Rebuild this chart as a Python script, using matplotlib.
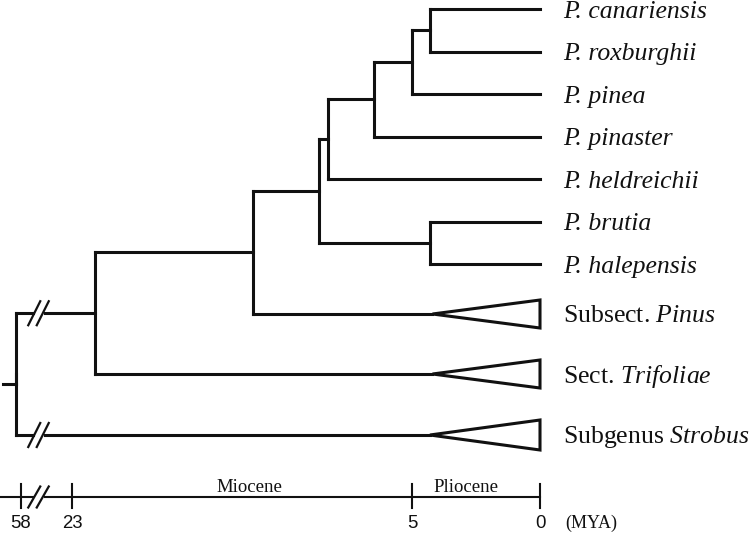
import numpy as np
import matplotlib
matplotlib.use("Agg")
import matplotlib.pyplot as plt
from matplotlib.patches import Polygon
from matplotlib.lines import Line2D

# ---------------- data ----------------
species = ["P. canariensis", "P. roxburghii", "P. pinea", "P. pinaster",
           "P. heldreichii", "P. brutia", "P. halepensis"]
clade_prefix = ["Subsect.", "Sect.", "Subgenus"]
clade_names = ["Pinus", "Trifoliae", "Strobus"]
clade_crown_age = [4.2, 4.2, 4.3]          # MYA, apex of collapsed triangles

# internal nodes (MYA)
node_age = {"n1": 4.3, "n2": 5.0, "n3": 7.0, "n4": 9.45, "n5": 4.3,
            "n6": 9.9, "n7": 13.4, "n8": 21.8, "root": 61.5}
root_stem_age = 70.3

tick_ages = [58, 23, 5, 0]
tick_labels = ["58", "23", "5", "0"]
epoch_names = ["Miocene", "Pliocene"]
epoch_label_age = [13.6, 2.9]

# topology
tree = ("root", [("n8", [("n7", [("n6", [("n4", [("n3", [("n2", [("n1", ["P. canariensis", "P. roxburghii"]),
                                                                 "P. pinea"]),
                                                         "P. pinaster"]),
                                                 "P. heldreichii"]),
                                         ("n5", ["P. brutia", "P. halepensis"])]),
                                 "Subsect."]),
                         "Sect."]),
                 "Subgenus"])
broken_children = {"n8", "Subgenus"}   # branches from root drawn with a break

# ---------------- scale (piecewise, as drawn in the figure) ----------------
A = np.array([0.0, 5.0, 23.0, 58.0])
D = np.array([0.0, 128.0, 468.0, 519.0])
s0 = (D[1] - D[0]) / (A[1] - A[0])
s3 = (D[3] - D[2]) / (A[3] - A[2])


def fwd(a):
    a = np.asarray(a, float)
    d = np.interp(a, A, D)
    d = np.where(a < 0, a * s0, d)
    d = np.where(a > A[-1], D[-1] + (a - A[-1]) * s3, d)
    return d


def inv(d):
    d = np.asarray(d, float)
    a = np.interp(d, D, A)
    a = np.where(d < 0, d / s0, a)
    a = np.where(d > D[-1], A[-1] + (d - D[-1]) / s3, a)
    return a


# ---------------- figure ----------------
W, H = 752, 535
fig = plt.figure(figsize=(W / 100, H / 100), dpi=100)
ax = fig.add_axes([0, 0, 1, 1])
ax.set_xscale("function", functions=(fwd, inv))
ax.set_xlim(float(inv(540)), float(inv(540 - W)))
ax.set_ylim(H, 0)
ax.axis("off")

K = "#111111"
LW = 2.2
SERIF = "Liberation Serif"
plt.rcParams["mathtext.fontset"] = "custom"
plt.rcParams["mathtext.rm"] = SERIF
plt.rcParams["mathtext.it"] = SERIF + ":italic"

# tip layout rows
sp_top, sp_gap = 9.0, 42.5
tip_y = {name: sp_top + i * sp_gap for i, name in enumerate(species)}
clade_gaps = [50, 60, 61]
yy = tip_y[species[-1]]
for p, g in zip(clade_prefix, clade_gaps):
    yy += g
    tip_y[p] = yy
tip_age = {n: 0.0 for n in species}
for p, c in zip(clade_prefix, clade_crown_age):
    tip_age[p] = c

BREAK_AGE = float(inv(540 - 38.5))


def hline(a0, a1, y, lw=LW):
    ax.plot([a0, a1], [y, y], color=K, lw=lw, solid_capstyle="projecting")


def break_marks(age, y, half_w=6, half_h=12, sep=8.5):
    px, py = ax.transData.transform((age, y))
    inv_fig = fig.transFigure.inverted()
    for dx in (-sep / 2, sep / 2):
        cx = px + dx
        p0 = inv_fig.transform((cx - half_w, py - half_h))
        p1 = inv_fig.transform((cx + half_w, py + half_h))
        fig.add_artist(Line2D([p0[0], p1[0]], [p0[1], p1[1]], color=K, lw=1.6,
                              transform=fig.transFigure))


def branch(parent_age, child_age, y, broken=False):
    if broken:
        px, _ = ax.transData.transform((BREAK_AGE, y))
        a_left = float(ax.transData.inverted().transform((px - 6, 0))[0])
        a_right = float(ax.transData.inverted().transform((px + 6, 0))[0])
        hline(parent_age, a_left, y)
        hline(a_right, child_age, y)
        break_marks(BREAK_AGE, y)
    else:
        hline(parent_age, child_age, y)


def draw(node):
    if isinstance(node, str):
        return tip_y[node], tip_age[node]
    name, kids = node
    a = node_age[name]
    ys = []
    for k in kids:
        ky, ka = draw(k)
        kname = k if isinstance(k, str) else k[0]
        branch(a, ka, ky, broken=(kname in broken_children))
        ys.append(ky)
    ax.plot([a, a], [min(ys), max(ys)], color=K, lw=LW, solid_capstyle="projecting")
    return (min(ys) + max(ys)) / 2, a


ry, ra = draw(tree)
hline(root_stem_age, ra, ry + 10)
ax.plot([ra, ra], [ry, ry + 10], color=K, lw=LW)

# tip labels for species, triangles for collapsed clades
FS = 18.5
for n in species:
    y = tip_y[n]
    ax.annotate(n, (0, y), xytext=(23, -8.5), textcoords="offset pixels",
                fontsize=FS, family=SERIF, style="italic", color=K,
                ha="left", va="baseline")
tri_half = [14, 14, 15]
for p, nm, h in zip(clade_prefix, clade_names, tri_half):
    y = tip_y[p]
    a = tip_age[p]
    ax.add_patch(Polygon([(a, y), (0, y - h), (0, y + h)], closed=True,
                         facecolor="white", edgecolor=K, lw=LW, joinstyle="miter"))
    ax.annotate(p + r" $\mathit{" + nm + "}$", (0, y), xytext=(23, -8.5),
                textcoords="offset pixels", fontsize=FS, family=SERIF, color=K,
                ha="left", va="baseline")

# ---------------- time axis ----------------
AX_Y = 497
left_age = float(inv(540))
px, _ = ax.transData.transform((BREAK_AGE, AX_Y))
a_l = float(ax.transData.inverted().transform((px - 6, 0))[0])
a_r = float(ax.transData.inverted().transform((px + 6, 0))[0])
ax.plot([left_age, a_l], [AX_Y, AX_Y], color=K, lw=1.5)
ax.plot([a_r, 0], [AX_Y, AX_Y], color=K, lw=1.5)
break_marks(BREAK_AGE, AX_Y, half_w=6, half_h=10.5)
for t, lab in zip(tick_ages, tick_labels):
    ax.plot([t, t], [484, 508], color=K, lw=1.5)
    ax.text(t, 523, lab, fontsize=13.4, family="Liberation Sans", color=K,
            ha="center", va="center")
ax.annotate("(MYA)", (0, 523), xytext=(25, 0), textcoords="offset pixels",
            fontsize=13, family=SERIF, color=K, ha="left", va="center")
for e, a in zip(epoch_names, epoch_label_age):
    ax.text(a, 487, e, fontsize=13.5, family=SERIF, color=K, ha="center", va="center")

fig.savefig("out.png", dpi=100)
